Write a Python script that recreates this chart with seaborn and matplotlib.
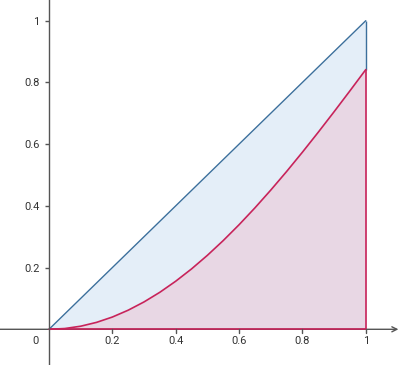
import numpy as np
import pandas as pd
import matplotlib
matplotlib.use("Agg")
import matplotlib.pyplot as plt
import seaborn as sns

# Data
x_vals = [0.0, 0.05, 0.1, 0.15, 0.2, 0.25, 0.3, 0.35, 0.4, 0.45, 0.5,
          0.55, 0.6, 0.65, 0.7, 0.75, 0.8, 0.85, 0.9, 0.95, 1.0]
upper_vals = [0.0, 0.05, 0.1, 0.15, 0.2, 0.25, 0.3, 0.35, 0.4, 0.45, 0.5,
              0.55, 0.6, 0.65, 0.7, 0.75, 0.8, 0.85, 0.9, 0.95, 1.0]
lower_vals = [0.0, 0.0025, 0.0100, 0.0224, 0.0397, 0.0619, 0.0887, 0.1200,
              0.1558, 0.1957, 0.2397, 0.2875, 0.3388, 0.3934, 0.4510,
              0.5112, 0.5739, 0.6386, 0.7050, 0.7727, 0.8415]
x_ticks = [0.2, 0.4, 0.6, 0.8, 1]
y_ticks = [0.2, 0.4, 0.6, 0.8, 1]
x_tick_labels = ["0.2", "0.4", "0.6", "0.8", "1"]
y_tick_labels = ["0.2", "0.4", "0.6", "0.8", "1"]

df = pd.DataFrame({"x": x_vals, "upper": upper_vals, "lower": lower_vals})

sns.set_style("white")
plt.rcParams["font.family"] = ["Roboto", "DejaVu Sans"]

BLUE = "#3b6f9c"
BLUE_FILL = "#e4eef8"
RED = "#c8235a"
RED_FILL = "#e8d7e4"
AXIS = "#555555"

fig = plt.figure(figsize=(4.0, 3.65), dpi=100)
ax = fig.add_axes([0, 0, 1, 1])

xmin, xmax = -0.1547, 1.108
ymin, ymax = -0.1157, 1.067
ax.set_xlim(xmin, xmax)
ax.set_ylim(ymin, ymax)

ax.fill_between(df["x"], 0, df["upper"], color=BLUE_FILL, lw=0, zorder=1)
ax.fill_between(df["x"], 0, df["lower"], color=RED_FILL, lw=0, zorder=2)

sns.lineplot(data=df, x="x", y="upper", ax=ax, color=BLUE, lw=1.0, zorder=4,
             estimator=None, sort=False)
sns.lineplot(data=df, x="x", y="lower", ax=ax, color=RED, lw=1.2, zorder=5,
             estimator=None, sort=False)
ax.vlines(df["x"].iloc[-1], df["lower"].iloc[-1], df["upper"].iloc[-1],
          color=BLUE, lw=1.0, zorder=4)
ax.vlines(df["x"].iloc[-1], 0, df["lower"].iloc[-1], color=RED, lw=1.2, zorder=5)
ax.hlines(0, 0, df["x"].iloc[-1], color=RED, lw=1.2, zorder=5)

# axes through the origin
for s in ["top", "right"]:
    ax.spines[s].set_visible(False)
ax.spines["left"].set_position(("data", 0))
ax.spines["bottom"].set_visible(False)
ax.spines["left"].set_color(AXIS)
ax.spines["left"].set_linewidth(1.0)
ax.spines["left"].set_zorder(6)
ax.annotate("", xy=(xmax - 0.005, 0), xytext=(xmin, 0),
            arrowprops=dict(arrowstyle="->", color=AXIS, lw=1.0,
                            shrinkA=0, shrinkB=0, mutation_scale=9),
            zorder=3)

ax.set_xticks(x_ticks)
ax.set_xticklabels(x_tick_labels)
ax.set_yticks(y_ticks)
ax.set_yticklabels(y_tick_labels)
ax.tick_params(axis="x", direction="out", length=3, width=1, color=AXIS,
               labelcolor="#333333", labelsize=8, pad=4, bottom=False)
ax.tick_params(axis="y", direction="out", length=3, width=1, color=AXIS,
               labelcolor="#333333", labelsize=8, pad=4, left=True)
# x ticks at y=0
for xt in x_ticks:
    ax.plot([xt, xt], [0, -0.011], color=AXIS, lw=1.0, zorder=6)
for lab in ax.get_xticklabels():
    lab.set_y(0)
ax.xaxis.set_ticks_position("bottom")
ax.tick_params(axis="x", labelbottom=False)
for xt, lab in zip(x_ticks, x_tick_labels):
    ax.text(xt, -0.038, lab, ha="center", va="center", fontsize=8,
            color="#333333")
ax.text(-0.032, -0.038, "0", ha="right", va="center", fontsize=8,
        color="#333333")
ax.set_xlabel("")
ax.set_ylabel("")

fig.savefig("out.png", dpi=100)
